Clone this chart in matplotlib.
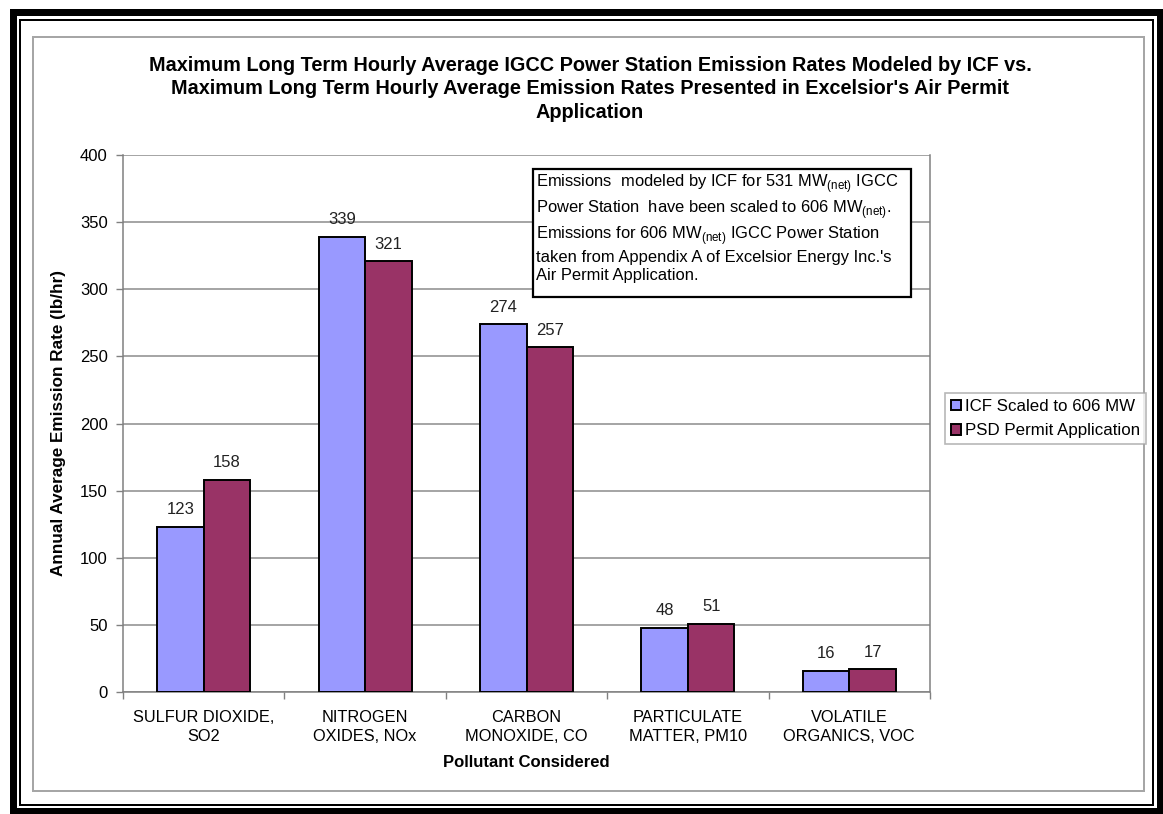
import numpy as np
import matplotlib.pyplot as plt
from matplotlib.patches import Rectangle

plt.rcParams['font.family'] = ['Liberation Sans', 'DejaVu Sans']
plt.rcParams['mathtext.fontset'] = 'custom'
plt.rcParams['mathtext.rm'] = 'Liberation Sans'
plt.rcParams['mathtext.bf'] = 'Liberation Sans:bold'

# emission rates, lb/hr
pollutants = ["SULFUR DIOXIDE,\nSO2", "NITROGEN\nOXIDES, NOx", "CARBON\nMONOXIDE, CO",
              "PARTICULATE\nMATTER, PM10", "VOLATILE\nORGANICS, VOC"]
icf_scaled = [123, 339, 274, 48, 16]
psd_permit = [158, 321, 257, 51, 17]
series_names = ["ICF Scaled to 606 MW", "PSD Permit Application"]
yticks = [0, 50, 100, 150, 200, 250, 300, 350, 400]

W, H = 1163, 814
fig = plt.figure(figsize=(W / 100, H / 100), dpi=100)

def fx(px):
    return px / W

def fy(py):
    return 1 - py / H

def frame(x0, y0, x1, y1, color, lw_px):
    fig.patches.append(Rectangle((fx(x0), fy(y1)), fx(x1) - fx(x0), fy(y0) - fy(y1),
                                 transform=fig.transFigure, fill=False,
                                 edgecolor=color, linewidth=lw_px * 0.72))

# double black border plus the grey chart frame
frame(12.5, 11.5, 1159.5, 811, 'black', 7)
frame(20, 19.5, 1153, 805, 'black', 2)
frame(33, 37, 1144, 791, '#a6a6a6', 2)

ax = fig.add_axes([fx(123), fy(692), fx(930) - fx(123), fy(155) - fy(692)])
x = np.arange(len(pollutants))
bw = 0.288
b1 = ax.bar(x - bw / 2, icf_scaled, bw, color='#9999FF', edgecolor='black',
            linewidth=1.4, label=series_names[0], zorder=3)
b2 = ax.bar(x + bw / 2, psd_permit, bw, color='#993366', edgecolor='black',
            linewidth=1.4, label=series_names[1], zorder=3)

for bars, vals in ((b1, icf_scaled), (b2, psd_permit)):
    for b, v in zip(bars, vals):
        ax.text(b.get_x() + b.get_width() / 2, v + 7, str(v), ha='center',
                va='bottom', fontsize=12, color='#222222')

ax.set_xlim(-0.5, len(pollutants) - 0.5)
ax.set_ylim(0, 400)
ax.set_yticks(yticks)
ax.yaxis.grid(True, color='#8c8c8c', linewidth=1.1, zorder=0)
ax.set_axisbelow(True)
ax.tick_params(axis='y', length=5, width=1, color='#808080', labelsize=12, pad=6)

ax.set_xticks(np.arange(len(pollutants) + 1) - 0.5)
ax.set_xticklabels([])
ax.set_xticks(x, minor=True)
ax.set_xticklabels(pollutants, minor=True, fontsize=11.8, linespacing=1.3)
ax.tick_params(axis='x', which='major', length=5, width=1, color='#808080')
ax.tick_params(axis='x', which='minor', length=0, pad=13)

for side in ('left', 'bottom', 'right'):
    ax.spines[side].set_color('#808080')
    ax.spines[side].set_linewidth(1.1)
ax.spines['top'].set_visible(False)

ax.set_ylabel("Annual Average Emission Rate (lb/hr)", fontsize=12.3, fontweight='bold',
              labelpad=10)
ax.set_xlabel("Pollutant Considered", fontsize=12, fontweight='bold', labelpad=8)

fig.text(fx(590), fy(89), "Maximum Long Term Hourly Average IGCC Power Station Emission Rates Modeled by ICF vs.\n"
         "Maximum Long Term Hourly Average Emission Rates Presented in Excelsior's Air Permit\n"
         "Application", ha='center', va='center', fontsize=14.3, fontweight='bold',
         linespacing=1.33)

net = r"$_{\mathrm{(net)}}$"
note = ("Emissions  modeled by ICF for 531 MW" + net + " IGCC\n"
        "Power Station  have been scaled to 606 MW" + net + ".\n"
        "Emissions for 606 MW" + net + " IGCC Power Station\n"
        "taken from Appendix A of Excelsior Energy Inc.'s\n"
        "Air Permit Application.")
fig.patches.append(Rectangle((fx(533), fy(297)), fx(911) - fx(533), fy(169) - fy(297),
                             transform=fig.transFigure, facecolor='white',
                             edgecolor='black', linewidth=1.6, zorder=5))
fig.text(fx(536), fy(172), note, ha='left', va='top', fontsize=11.9, linespacing=1.22,
         zorder=6)

leg = fig.legend(handles=[b1, b2], loc='upper left',
                 bbox_to_anchor=(fx(945), fy(393)), fontsize=12.2, frameon=True,
                 fancybox=False, edgecolor='#a6a6a6', handlelength=0.6,
                 handleheight=0.6, handletextpad=0.25, borderpad=0.35,
                 labelspacing=0.55, borderaxespad=0)
leg.get_frame().set_linewidth(1.2)

fig.savefig("out.png", dpi=100)
